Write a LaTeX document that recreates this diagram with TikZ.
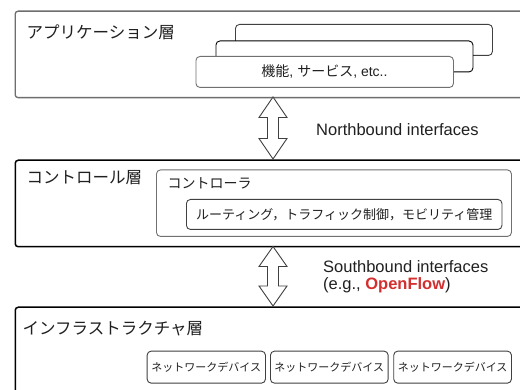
\documentclass[tikz,border=0pt]{standalone}
\usepackage{fontspec}
\setmainfont{Liberation Sans}
\newfontfamily\jp{Noto Sans CJK JP}
\definecolor{ofred}{HTML}{D32F2F}
\definecolor{appgray}{HTML}{6E6E6E}
\definecolor{boxgray}{HTML}{707070}
\definecolor{darkg}{HTML}{404040}
\definecolor{txt}{HTML}{202020}
\tikzset{
  layerbox/.style={draw, rounded corners=3pt, anchor=north west, inner sep=0pt, fill=white},
  subbox/.style={draw, rounded corners=4pt, anchor=north west, inner sep=0pt, fill=white, line width=0.9pt},
  lbl/.style={anchor=west, inner sep=0pt, text=txt},
  bigarrow/.style={draw=darkg, fill=white, line width=0.9pt, line join=miter},
}
\begin{document}
\begin{tikzpicture}[x=1pt, y=-1pt]
\clip (0,0) rectangle (520,390);
\fill[white] (0,0) rectangle (520,390);
% application layer
\node[layerbox, draw=appgray, line width=1.3pt, minimum width=530pt, minimum height=86.5pt] (app) at (14.5,10.5) {};
\node[lbl, font=\fontsize{16.5}{18}\selectfont\jp] (applbl) at (26.5,32) {アプリケーション層};
\node[subbox, draw=darkg, minimum width=257pt, minimum height=31pt] (s3) at (235,24) {};
\node[subbox, draw=black, minimum width=257pt, minimum height=31pt] (s2) at (215.5,40.5) {};
\node[subbox, draw=boxgray, minimum width=257.5pt, minimum height=31pt] (s1) at (195.5,56) {};
\node[inner sep=0pt, text=txt, font=\fontsize{14}{16}\selectfont] (s1t) at (324.5,72) {{\jp 機能}, {\jp サービス}, etc..};
% control layer
\node[layerbox, draw=black, line width=1.5pt, minimum width=530pt, minimum height=86.5pt] (ctl) at (14.5,159.5) {};
\node[lbl, font=\fontsize{16.5}{18}\selectfont\jp] (ctllbl) at (26.5,178) {コントロール層};
\node[subbox, draw=boxgray, minimum width=355pt, minimum height=66.5pt] (cont) at (156,169.5) {};
\node[lbl, font=\fontsize{14}{16}\selectfont\jp] (contlbl) at (167.5,183.5) {コントローラ};
\node[subbox, draw=darkg, minimum width=315.5pt, minimum height=30pt] (func) at (186,199) {};
\node[inner sep=0pt, text=txt, font=\fontsize{13}{15}\selectfont\jp] (funct) at (func.center) {ルーティング，トラフィック制御，モビリティ管理};
% infrastructure layer
\node[layerbox, draw=black, line width=1.5pt, minimum width=530pt, minimum height=120pt] (inf) at (14.5,306.5) {};
\node[lbl, font=\fontsize{16.5}{18}\selectfont\jp] (inflbl) at (22.5,328.5) {インフラストラクチャ層};
\node[subbox, draw=darkg, minimum width=118.3pt, minimum height=32pt] (d1) at (146.7,350.7) {};
\node[subbox, draw=darkg, minimum width=117.7pt, minimum height=32pt] (d2) at (270,350.7) {};
\node[subbox, draw=darkg, minimum width=117.7pt, minimum height=32pt] (d3) at (393.3,350.7) {};
\foreach \d in {d1,d2,d3}
  \node[inner sep=0pt, text=txt, font=\fontsize{11}{13}\selectfont\jp] at (\d.center) {ネットワークデバイス};
% arrows
\coordinate (n1) at (273,97);
\coordinate (n2) at (273,246.5);
\draw[bigarrow] (n1) -- ++(14,20.5) -- ++(-8.5,0) -- ++(0,21) -- ++(8.5,0) -- ++(-14,20.5) -- ++(-14,-20.5) -- ++(8.5,0) -- ++(0,-21) -- ++(-8.5,0) -- cycle;
\draw[bigarrow] (n2) -- ++(14,20) -- ++(-8.5,0) -- ++(0,19.5) -- ++(8.5,0) -- ++(-14,20) -- ++(-14,-20) -- ++(8.5,0) -- ++(0,-19.5) -- ++(-8.5,0) -- cycle;
% interface labels
\node[lbl, font=\fontsize{16.5}{18}\selectfont] (nb) at (316,130) {Northbound interfaces};
\node[lbl, align=left, font=\fontsize{16.5}{17}\selectfont] (sb) at (323,276.7) {Southbound interfaces\\(e.g., \textcolor{ofred}{\textbf{OpenFlow}})};
\end{tikzpicture}
\end{document}
